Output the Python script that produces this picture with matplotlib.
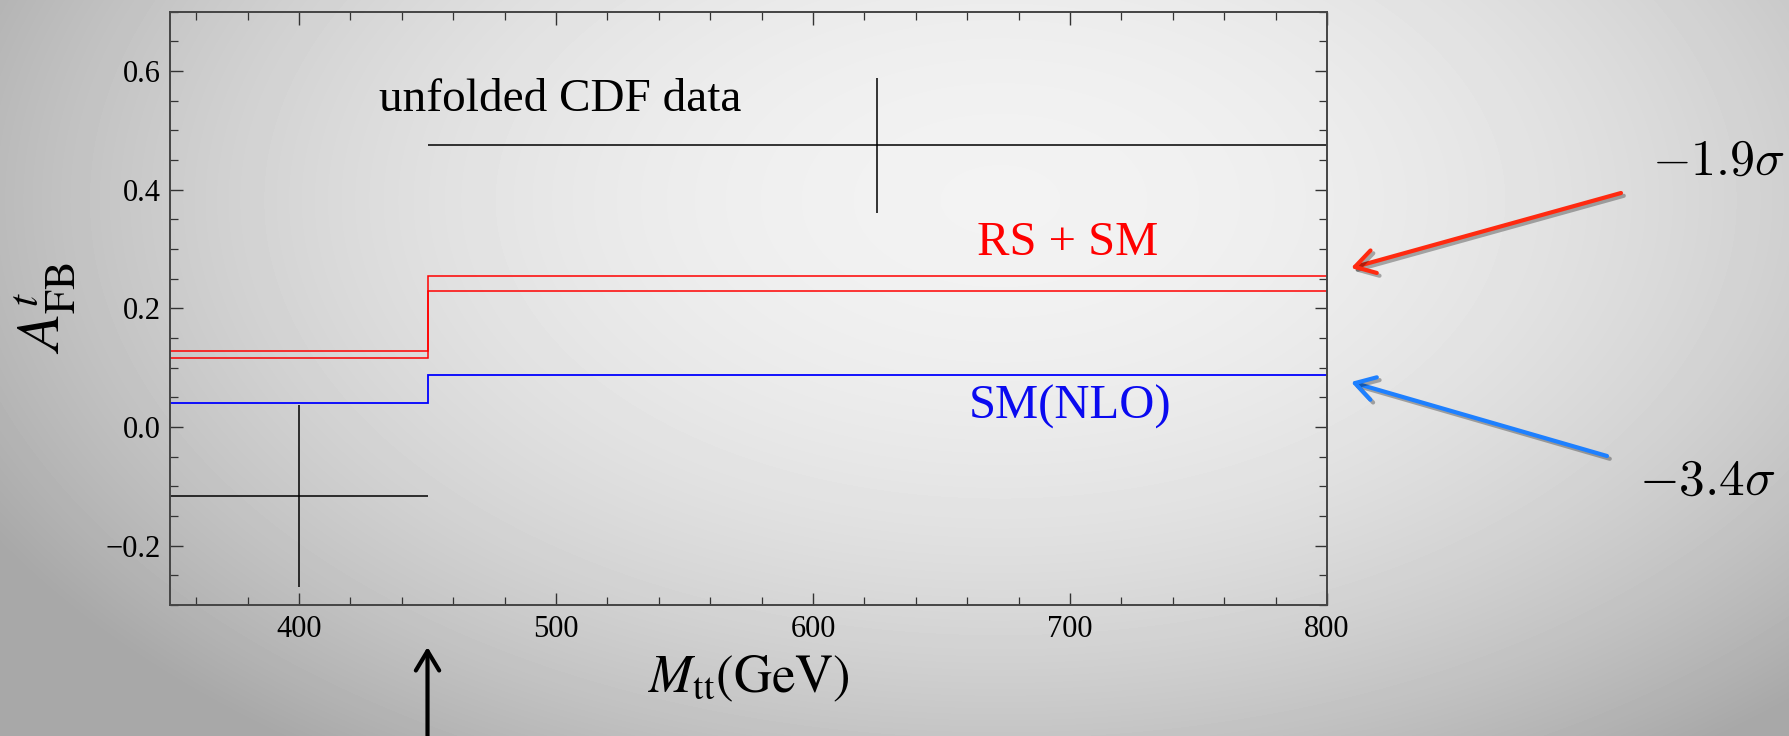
import numpy as np
import matplotlib
matplotlib.use("Agg")
import matplotlib.pyplot as plt
import matplotlib.patheffects as pe
from matplotlib.ticker import MultipleLocator


# ── Data ───────────────────────────────────────────────────
mtt_edges   = [350, 450, 800]          # GeV bin edges
cdf_afb     = [-0.116, 0.475]          # unfolded CDF data
cdf_err     = [0.153, 0.114]
sm_nlo      = [0.040, 0.088]
rs_sm_upper = [0.128, 0.254]
rs_sm_lower = [0.116, 0.229]
sigma_labels = [r"$-1.9\sigma$", r"$-3.4\sigma$"]


# ── Style ──────────────────────────────────────────────────
plt.rcParams["font.family"] = ["Liberation Serif", "DejaVu Serif"]
plt.rcParams["mathtext.fontset"] = "stix"

W, H = 1789, 736
fig = plt.figure(figsize=(W / 100, H / 100), dpi=100)

# radial grey background
bg = fig.add_axes([0, 0, 1, 1], zorder=-10)
yy, xx = np.mgrid[0:H, 0:W]
r2 = ((xx - 1000) / 1050.0) ** 2 + ((yy - 200) / 620.0) ** 2
shade = np.clip(0.95 - 0.24 * r2, 0.66, 1.0)
bg.imshow(shade, cmap="gray", vmin=0, vmax=1, aspect="auto",
          interpolation="bilinear")
bg.axis("off")

ax = fig.add_axes([0.0953, 0.178, 0.6465, 0.806])
ax.set_facecolor("none")


# ── Curves ─────────────────────────────────────────────────
edges   = np.array(mtt_edges)
centers = (edges[:-1] + edges[1:]) / 2
halfw   = np.diff(edges) / 2

ax.errorbar(centers, cdf_afb, xerr=halfw, yerr=cdf_err, fmt="none",
            ecolor="black", elinewidth=1.1, capsize=0)
ax.stairs(sm_nlo, edges, baseline=None, color="#0000ff", lw=1.3)
ax.stairs(rs_sm_upper, edges, baseline=None, color="#ff0000", lw=1.1)
ax.stairs(rs_sm_lower, edges, baseline=None, color="#ff0000", lw=1.1)

ax.text(431, 0.551, "unfolded CDF data", fontsize=34, va="center")
ax.text(699, 0.311, "RS + SM", color="#ff0000", fontsize=35,
        ha="center", va="center")
ax.text(700, 0.034, "SM(NLO)", color="#0a0af0", fontsize=35,
        ha="center", va="center")


# ── Axes ───────────────────────────────────────────────────
ax.set_xlim(350, 800)
ax.set_ylim(-0.3, 0.7)
ax.xaxis.set_major_locator(MultipleLocator(100))
ax.xaxis.set_minor_locator(MultipleLocator(20))
ax.yaxis.set_major_locator(MultipleLocator(0.2))
ax.yaxis.set_minor_locator(MultipleLocator(0.05))
ax.tick_params(which="both", direction="in", top=True, right=True,
               colors="#333333", labelcolor="black", labelsize=22, pad=7)
ax.tick_params(which="major", length=9, width=1.0)
ax.tick_params(which="minor", length=5.5, width=0.9)
for s in ax.spines.values():
    s.set_color("#444444")
    s.set_linewidth(1.4)

ax.set_xlabel(r"$M_{\rm tt}\rm(GeV)$", fontsize=38)
ax.xaxis.set_label_coords(0.5, -0.082)
ax.set_ylabel(r"$A^{t}_{\rm FB}$", fontsize=44)
ax.yaxis.set_label_coords(-0.08, 0.5)


# ── Annotations ────────────────────────────────────────────
shadow = [pe.SimpleLineShadow(offset=(2, -2), alpha=0.3), pe.Normal()]

def fig_arrow(tail, head, color, coords="figure pixels", fx=None):
    ax.annotate("", xy=head, xycoords=coords, xytext=tail, textcoords=coords,
                annotation_clip=False,
                arrowprops=dict(arrowstyle="->,head_length=1.0,head_width=0.6",
                                color=color, lw=3.0, mutation_scale=14,
                                shrinkA=0, shrinkB=0, path_effects=fx))

fig_arrow((1621, 543), (1351, 468), "#ff2a10", fx=shadow)
fig_arrow((1607, 280), (1351, 354), "#1e80ff", fx=shadow)
fig_arrow((450, -5), (450, 89), "black", coords=("data", "figure pixels"))

fig.text(1652 / W, 1 - 162 / H, sigma_labels[0], fontsize=36,
         math_fontfamily="cm", va="center")
fig.text(1639 / W, 1 - 482 / H, sigma_labels[1], fontsize=37,
         math_fontfamily="cm", va="center")

fig.savefig("out.png", dpi=100)
